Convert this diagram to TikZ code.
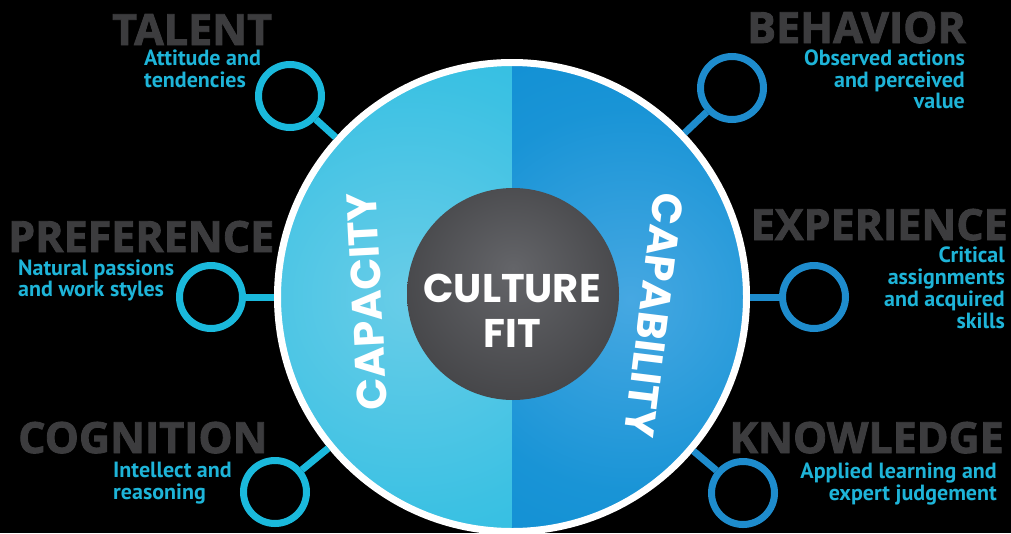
\documentclass[tikz,border=0pt]{standalone}
\usepackage{fontspec}
\setmainfont{Open Sans}
\newfontfamily\headf{Open Sans}[BoldFeatures={FakeBold=2}]
\newfontfamily\subf{PT Sans}
\newfontfamily\geof{Poppins}
\definecolor{headgray}{RGB}{60,60,62}
\definecolor{subcyan}{RGB}{30,180,216}
\definecolor{ringcyan}{RGB}{26,185,220}
\definecolor{ringblue}{RGB}{30,140,205}
\definecolor{cyanL}{RGB}{22,184,222}
\definecolor{cyanLm}{RGB}{60,193,227}
\definecolor{cyanLi}{RGB}{105,205,232}
\definecolor{blueR}{RGB}{2,136,208}
\definecolor{blueRm}{RGB}{25,148,214}
\definecolor{blueRi}{RGB}{70,168,226}
\definecolor{coreIn}{RGB}{100,101,105}
\definecolor{coreOut}{RGB}{46,46,48}
\pgfdeclareradialshading{lefthalf}{\pgfpoint{0bp}{0bp}}{color(0bp)=(cyanLi); color(18bp)=(cyanLm); color(40bp)=(cyanL); color(50bp)=(cyanL)}
\pgfdeclareradialshading{righthalf}{\pgfpoint{0bp}{0bp}}{color(0bp)=(blueRi); color(16bp)=(blueRm); color(40bp)=(blueR); color(50bp)=(blueR)}
\pgfdeclareradialshading{coreshade}{\pgfpoint{0bp}{6bp}}{color(0bp)=(coreIn); color(50bp)=(coreOut)}
\tikzset{
  head/.style={font=\headf\bfseries\fontsize{43}{43}\selectfont, text=headgray, inner sep=0pt},
  sub/.style={font=\subf\bfseries\fontsize{22}{21.5}\selectfont, text=subcyan, inner sep=0pt},
  ringL/.style={circle, draw=ringcyan, line width=7pt, minimum size=63pt, inner sep=0pt},
  ringR/.style={circle, draw=ringblue, line width=7pt, minimum size=63pt, inner sep=0pt},
  conL/.style={draw=ringcyan, line width=7pt},
  conR/.style={draw=ringblue, line width=7pt},
  captext/.style={font=\geof\bfseries\fontsize{42}{42}\selectfont, text=white, inner sep=0pt},
}
\begin{document}
\begin{tikzpicture}[x=1pt,y=-1pt]
\fill[black] (0,0) rectangle (1011,533);
\useasboundingbox (0,0) rectangle (1011,533);
% halves of the big disc
\begin{scope}
  \clip (512,297) circle (235pt);
  \begin{scope}
    \clip (0,0) rectangle (512,540);
    \shade[shading=lefthalf] (410,297) circle (300pt);
  \end{scope}
  \begin{scope}
    \clip (512,0) rectangle (1011,540);
    \shade[shading=righthalf] (630,300) circle (300pt);
  \end{scope}
\end{scope}
\node[circle, draw=white, line width=7pt, minimum size=469pt, inner sep=0pt] (big) at (512,297) {};
% rings
\node[ringL] (talent) at (290,96) {};
\node[ringL] (preference) at (211,297) {};
\node[ringL] (cognition) at (275,492) {};
\node[ringR] (behavior) at (732,88) {};
\node[ringR] (experience) at (814,297) {};
\node[ringR] (knowledge) at (743,493) {};
\draw[conL] (talent) -- (big);
\draw[conL] (preference) -- (big);
\draw[conL] (cognition) -- (big);
\draw[conR] (behavior) -- (big);
\draw[conR] (experience) -- (big);
\draw[conR] (knowledge) -- (big);
% core
\node[circle, minimum size=212pt, inner sep=0pt, shading=coreshade] (core) at (513,294) {};
\node[font=\geof\bfseries\fontsize{40}{45}\selectfont, text=white, inner sep=0pt, anchor=base] (culture) at (512,302)
  {\begin{tabular}[t]{@{}c@{}}CULTURE\\FIT\end{tabular}};
\node[captext, rotate=93] (capacity) at (367,302) {CAPACITY};
\node[captext, rotate=-97] (capability) at (654,315) {CAPABILITY};
% headings
\node[head, anchor=base west] (talentH) at (112,45) {TALENT};
\node[head, anchor=base east] (behaviorH) at (966,43) {BEHAVIOR};
\node[head, anchor=base west] (preferenceH) at (8,252) {PREFERENCE};
\node[head, anchor=base east] (experienceH) at (1008,240) {EXPERIENCE};
\node[head, anchor=base west] (cognitionH) at (18,453) {COGNITION};
\node[head, anchor=base east] (knowledgeH) at (1004,453) {KNOWLEDGE};
% descriptions
\node[sub, anchor=base west] (talentS) at (144,65) {\begin{tabular}[t]{@{}l@{}}Attitude and\\tendencies\end{tabular}};
\node[sub, anchor=base east] (behaviorS) at (965,65) {\begin{tabular}[t]{@{}r@{}}Observed actions\\and perceived\\value\end{tabular}};
\node[sub, anchor=base west] (preferenceS) at (18,275) {\begin{tabular}[t]{@{}l@{}}Natural passions\\and work styles\end{tabular}};
\node[sub, anchor=base east] (experienceS) at (1005,262) {\begin{tabular}[t]{@{}r@{}}Critical\\assignments\\and acquired\\skills\end{tabular}};
\node[sub, anchor=base west] (cognitionS) at (113,477) {\begin{tabular}[t]{@{}l@{}}Intellect and\\reasoning\end{tabular}};
\node[sub, anchor=base east] (knowledgeS) at (997,478) {\begin{tabular}[t]{@{}r@{}}Applied learning and\\expert judgement\end{tabular}};
\end{tikzpicture}
\end{document}
